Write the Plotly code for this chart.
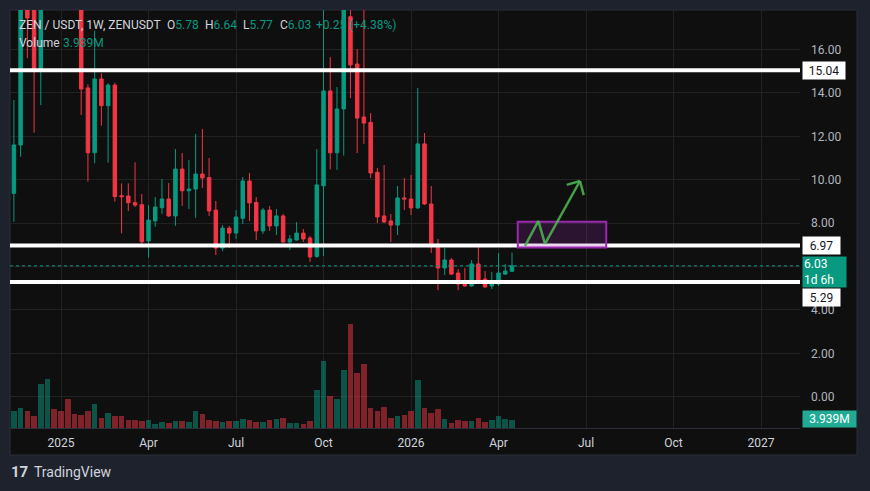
import pandas as pd
import plotly.graph_objects as go

# ZEN/USDT weekly, first visible bar is the week of 2024-11-18
dates = pd.date_range("2024-11-18", periods=75, freq="7D")

opens = [9.37, 11.60, 18.60, 18.30, 15.10, 20.80, 25.60,
         23.10, 21.40, 19.60, 18.90, 14.23, 11.24, 14.64, 13.41, 14.36, 9.26,
         9.25, 8.94, 8.85, 7.18, 8.10, 8.71, 9.11, 8.33, 10.49, 9.49,
         9.57, 10.26, 10.10, 8.60, 6.85, 7.77, 7.54, 8.22, 9.94, 8.95,
         7.64, 8.60, 7.87, 8.33, 7.13, 7.22, 7.54, 7.31, 6.46, 9.72,
         14.09, 11.24, 13.26, 17.51, 15.33, 12.89, 12.64, 10.34, 8.33, 8.10,
         7.91, 9.16, 9.11, 8.70, 11.65, 8.88, 7.03, 5.93, 6.30, 5.70,
         5.24, 5.10, 6.12, 5.42, 5.10, 5.19, 5.65, 5.78]
highs = [13.67, 19.20, 19.30, 18.80, 21.50, 27.50, 26.80,
         24.50, 23.00, 20.50, 19.50, 14.40, 16.87, 14.90, 14.45, 14.47, 9.83,
         9.83, 10.80, 9.34, 8.83, 9.20, 10.03, 9.85, 11.41, 11.23, 10.91,
         12.11, 12.34, 11.00, 9.02, 7.91, 7.87, 8.60, 10.12, 10.31, 9.20,
         8.70, 8.79, 8.65, 8.42, 7.45, 8.05, 7.73, 7.41, 11.41, 19.50,
         15.65, 14.27, 19.50, 19.00, 16.02, 18.50, 13.07, 10.54, 10.68, 8.42,
         9.71, 10.08, 10.22, 14.23, 12.15, 9.71, 7.27, 6.85, 6.39, 5.88,
         5.93, 6.30, 6.99, 5.79, 5.75, 6.62, 6.12, 6.64]
lows = [8.06, 11.06, 15.60, 12.17, 13.44, 19.50, 22.00,
        20.20, 19.00, 18.20, 12.98, 9.91, 10.76, 12.49, 10.78, 8.99, 7.53,
        8.56, 8.74, 7.04, 6.41, 7.83, 8.42, 8.29, 7.87, 8.79, 8.65,
        8.24, 9.62, 8.33, 6.53, 6.71, 6.85, 7.27, 7.96, 8.10, 7.22,
        7.50, 7.64, 7.45, 7.10, 6.76, 7.20, 7.13, 6.21, 6.40, 6.48,
        10.48, 10.45, 11.11, 13.76, 11.23, 11.65, 10.08, 8.00, 8.00, 7.13,
        7.45, 8.60, 8.37, 8.65, 8.83, 6.62, 4.91, 5.61, 5.61, 4.91,
        5.08, 5.08, 5.24, 5.01, 4.96, 5.10, 5.61, 5.77]
closes = [11.60, 18.60, 17.45, 15.10, 20.80, 25.60, 23.10,
          21.40, 19.60, 18.90, 14.18, 11.24, 14.64, 13.41, 14.36, 9.22, 9.22,
          8.94, 8.83, 7.14, 8.14, 8.74, 9.11, 8.33, 10.49, 9.49, 9.57,
          10.26, 10.08, 8.56, 6.85, 7.77, 7.54, 8.28, 9.94, 8.93, 7.64,
          8.60, 7.87, 8.33, 7.13, 7.27, 7.54, 7.27, 6.44, 9.76, 14.09,
          11.24, 13.26, 18.30, 15.29, 12.84, 12.61, 10.31, 8.28, 8.05, 7.91,
          9.16, 9.11, 8.70, 11.65, 8.88, 6.99, 5.93, 6.30, 5.65, 5.19,
          5.10, 6.12, 5.38, 5.06, 5.24, 5.70, 5.79, 6.03]
# volume in millions
volumes = [8.3, 9.8, 8.3, 5.9, 21.6, 24.0, 9.3,
           8.3, 14.2, 6.9, 6.4, 8.3, 11.8, 4.9, 7.4, 5.9, 5.9,
           3.9, 3.9, 3.4, 3.9, 2.0, 2.9, 2.5, 3.4, 3.4, 2.9,
           8.3, 6.9, 3.9, 3.4, 2.9, 3.4, 3.4, 4.4, 3.9, 2.9,
           2.9, 3.9, 4.4, 4.9, 2.5, 2.5, 2.0, 3.4, 18.6, 32.8,
           15.7, 14.2, 28.4, 51.0, 27.0, 31.4, 9.8, 8.3, 10.3, 4.9,
           5.9, 6.4, 8.3, 23.5, 9.8, 7.4, 9.3, 4.4, 2.5, 3.9,
           3.4, 3.4, 4.9, 2.9, 3.9, 5.9, 4.4, 3.939]

tick_dates = ["2025-01-06", "2025-04-07", "2025-07-07", "2025-10-06", "2026-01-05",
              "2026-04-06", "2026-07-06", "2026-10-05", "2027-01-04"]
tick_labels = ["2025", "Apr", "Jul", "Oct", "2026", "Apr", "Jul", "Oct", "2027"]
# 6.00 sits under the last-price tag, so it is left out
price_ticks = [0, 2, 4, 8, 10, 12, 14, 16]

levels = [15.04, 6.97, 5.29]
last_price = 6.03

# drawing: target box + zigzag arrow
box_x = ["2026-04-26", "2026-07-27"]
box_y = [6.87, 8.06]
arrow_x = ["2026-05-03 12:00", "2026-05-17 10:00", "2026-05-24 07:00", "2026-06-29 17:00"]
arrow_y = [6.94, 8.10, 7.04, 9.94]
head_x = ["2026-06-15 21:00", "2026-07-03 14:00"]
head_y = [9.76, 9.29]

UP = "#089981"
DOWN = "#f23645"
TXT = "#d1d4dc"
FONT = "Roboto"
GRID = "#222222"


def px_x(x):
    return (x - 10) / 790


def px_y(y):
    return (428 - y) / 418


vol_colors = ["rgba(8,153,129,0.5)" if c >= o else "rgba(242,54,69,0.5)"
              for o, c in zip(opens, closes)]

fig = go.Figure()
fig.add_trace(go.Bar(x=dates, y=volumes, yaxis="y2", marker_color=vol_colors,
                     marker_line_width=0, width=6 * 86400000 * 0.97))
fig.add_trace(go.Candlestick(
    x=dates, open=opens, high=highs, low=lows, close=closes,
    increasing=dict(line=dict(color=UP, width=1), fillcolor=UP),
    decreasing=dict(line=dict(color=DOWN, width=1), fillcolor=DOWN),
))

ref = pd.Timestamp("2025-01-06")
x_start = ref - pd.Timedelta(days=53.04)
x_end = ref + pd.Timedelta(days=768.5)

shapes = [
    dict(type="rect", xref="paper", yref="paper", x0=px_x(10), x1=px_x(857),
         y0=px_y(455), y1=px_y(10), fillcolor="#0f0f0f",
         line=dict(color="#2a2e39", width=1), layer="below"),
    # grid line at 6.00 (its label is hidden by the price tag)
    dict(type="line", xref="paper", yref="y", x0=0, x1=1, y0=6, y1=6,
         line=dict(color=GRID, width=1), layer="below"),
]
for lv in levels:
    shapes.append(dict(type="line", xref="paper", yref="y", x0=0, x1=1, y0=lv, y1=lv,
                       line=dict(color="white", width=4)))
shapes.append(dict(type="line", xref="paper", yref="y", x0=0, x1=1, y0=last_price,
                   y1=last_price, line=dict(color=UP, width=1, dash="dot")))
shapes.append(dict(type="rect", xref="x", yref="y", x0=box_x[0], x1=box_x[1],
                   y0=box_y[0], y1=box_y[1], fillcolor="rgba(156,39,176,0.2)",
                   line=dict(color="#9c27b0", width=2)))
for i in range(len(arrow_x) - 1):
    shapes.append(dict(type="line", xref="x", yref="y", x0=arrow_x[i], y0=arrow_y[i],
                       x1=arrow_x[i + 1], y1=arrow_y[i + 1],
                       line=dict(color="rgba(76,175,80,0.9)", width=2.5)))
for hx, hy in zip(head_x, head_y):
    shapes.append(dict(type="line", xref="x", yref="y", x0=arrow_x[-1], y0=arrow_y[-1],
                       x1=hx, y1=hy, line=dict(color="rgba(76,175,80,0.9)", width=2.5)))

ann = []


def label(text, y, yref, bg, fg, w, h, x=801.7, align="center"):
    ann.append(dict(text=text, xref="paper", x=px_x(x), xanchor="left", yref=yref, y=y,
                    yanchor="middle", showarrow=False, bgcolor=bg, width=w, height=h,
                    align=align, font=dict(family=FONT, size=12, color=fg)))


label("15.04", levels[0], "y", "white", "#131722", 40, 15)
label("6.97", levels[1], "y", "white", "#131722", 35, 15)
label("6.03<br>1d 6h", 6.03 - 0.3, "y", UP, "white", 41, 28, align="left")
label("5.29", 4.57, "y", "white", "#131722", 35, 15)
label("3.939M", px_y(419), "paper", "#22ab94", "white", 51, 14)


def text(t, x, y, size=12, color=TXT):
    ann.append(dict(text=t, xref="paper", x=px_x(x), xanchor="left", yref="paper",
                    y=px_y(y), yanchor="middle", showarrow=False,
                    font=dict(family=FONT, size=size, color=color)))


teal = "<span style='color:#089981'>%s</span>"
text("ZEN / USDT, 1W, ZENUSDT", 17, 25)
text("O" + teal % "5.78", 165, 25)
text("H" + teal % "6.64", 203, 25)
text("L" + teal % "5.77", 241, 25)
text("C" + teal % "6.03", 278, 25)
text(teal % "+0.25 (+4.38%)", 314, 25)
text("Volume", 17, 43)
text(teal % "3.939M", 61, 43)
text("<b>17</b>", 9, 472, size=15, color=TXT)
text("TradingView", 32, 472, size=14, color=TXT)

fig.update_layout(
    width=870, height=491,
    margin=dict(l=10, r=70, t=10, b=63),
    paper_bgcolor="#1e222d", plot_bgcolor="#0f0f0f",
    showlegend=False,
    bargap=0,
    boxgap=0.26,
    shapes=shapes,
    annotations=ann,
    xaxis=dict(type="date", range=[x_start, x_end], tickvals=tick_dates, ticktext=tick_labels,
               showgrid=True, gridcolor=GRID, zeroline=False, ticks="",
               showline=True, linecolor="#2a2e39", rangeslider=dict(visible=False),
               tickfont=dict(family=FONT, size=12, color=TXT), ticklabelstandoff=4),
    yaxis=dict(side="right", range=[-1.442, 17.82], tickvals=price_ticks, tickformat=".2f",
               showgrid=True, gridcolor=GRID, zeroline=False, ticks="",
               tickfont=dict(family=FONT, size=12, color="#b2b5be"), ticklabelstandoff=10),
    yaxis2=dict(overlaying="y", range=[0, 205], visible=False),
)

# the browser's default 8px body margin would shift the whole chart
fig.write_html("out.html", config={"displayModeBar": False},
               post_script="document.body.style.margin='0';"
               "document.body.style.background='#1e222d';")
